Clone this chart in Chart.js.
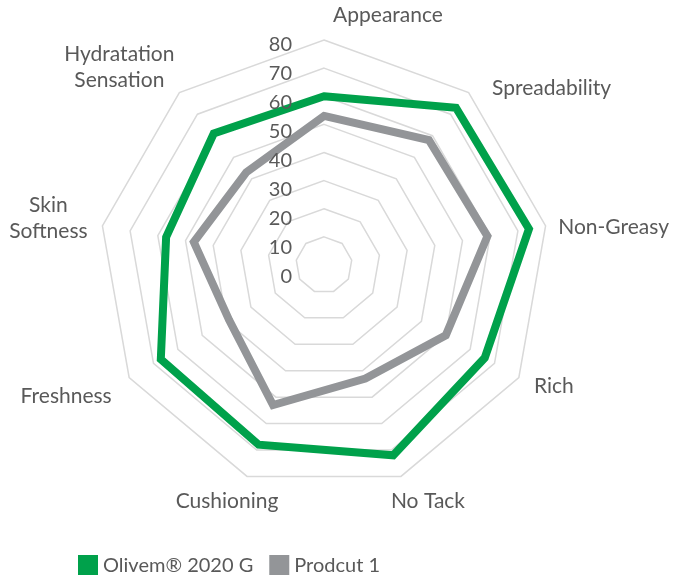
<!DOCTYPE html>
<html>
<head>
<meta charset="utf-8">
<script src="https://cdn.jsdelivr.net/npm/chart.js@4/dist/chart.umd.min.js"></script>
<style>
  html, body { margin: 0; padding: 0; background: #ffffff; }
  #wrap { position: relative; width: 675px; height: 579px; }
</style>
</head>
<body>
<div id="wrap"><canvas id="c" width="675" height="579"></canvas></div>
<script>
// ---- data ----
const categories = [
  'Appearance', 'Spreadability', 'Non-Greasy', 'Rich', 'No Tack',
  'Cushioning', 'Freshness', ['Skin', 'Softness'], ['Hydratation', 'Sensation']
];
const seriesNames = ['Olivem® 2020 G', 'Prodcut 1'];
const olivemValues = [60, 73, 74, 66, 72, 68, 67, 57, 61];
const productValues = [53, 58, 59, 50, 43, 53, 39, 47, 43];
const tickValues = [0, 10, 20, 30, 40, 50, 60, 70, 80];

// ---- styling ----
const GREEN = '#00A14B';
const GRAY = '#939598';
const TEXT = '#595959';
const FONT = 'Lato, "Open Sans", sans-serif';
const LABEL_SIZE = 21;
const TICK_SIZE = 20;
const LEGEND_SIZE = 20;

// label nudges from the outer vertex to the label's text centre
const labelNudge = [
  [64, -25], [83, -4], [68, 1], [35, 9], [27, 25],
  [-20, 25], [-63, 19], [-54, -8], [-60, -25]
];

const labelPlugin = {
  id: 'customLabels',
  afterDraw(chart) {
    const s = chart.scales.r;
    const ctx = chart.ctx;
    ctx.save();
    ctx.fillStyle = TEXT;
    ctx.textBaseline = 'middle';
    // point labels
    ctx.font = LABEL_SIZE + 'px ' + FONT;
    ctx.textAlign = 'center';
    const lh = 26;
    categories.forEach((lab, i) => {
      const p = s.getPointPosition(i, s.drawingArea);
      const cx = p.x + labelNudge[i][0];
      const cy = p.y + labelNudge[i][1];
      const lines = Array.isArray(lab) ? lab : [lab];
      const y0 = cy - (lines.length - 1) * lh / 2;
      lines.forEach((t, k) => ctx.fillText(t, cx, y0 + k * lh));
    });
    // tick labels (left of the vertical axis)
    ctx.font = TICK_SIZE + 'px ' + FONT;
    ctx.textAlign = 'right';
    tickValues.forEach(v => {
      const d = s.getDistanceFromCenterForValue(v);
      ctx.fillText(String(v), s.xCenter - 32, s.yCenter + 12 - d * 1.035);
    });
    // legend
    ctx.font = LEGEND_SIZE + 'px ' + FONT;
    const items = [[GREEN, seriesNames[0]], [GRAY, seriesNames[1]]];
    let x = 78;
    const ly = 565;
    ctx.textAlign = 'left';
    items.forEach(([col, name]) => {
      ctx.fillStyle = col;
      ctx.fillRect(x, ly - 10, 20, 20);
      ctx.fillStyle = TEXT;
      ctx.fillText(name, x + 25, ly + 1);
      x += 25 + ctx.measureText(name).width + 16;
    });
    ctx.restore();
  }
};

new Chart(document.getElementById('c'), {
  type: 'radar',
  data: {
    labels: categories,
    datasets: [
      {
        label: seriesNames[0],
        data: olivemValues,
        borderColor: GREEN,
        backgroundColor: GREEN,
        borderWidth: 8,
        fill: false,
        pointRadius: 0,
        pointHoverRadius: 0,
        borderJoinStyle: 'miter',
        tension: 0
      },
      {
        label: seriesNames[1],
        data: productValues,
        borderColor: GRAY,
        backgroundColor: GRAY,
        borderWidth: 8,
        fill: false,
        pointRadius: 0,
        pointHoverRadius: 0,
        borderJoinStyle: 'miter',
        tension: 0
      }
    ]
  },
  options: {
    responsive: false,
    animation: false,
    devicePixelRatio: 1,
    layout: { padding: { left: 99, right: 126, top: 40, bottom: 89 } },
    plugins: { legend: { display: false }, tooltip: { enabled: false } },
    scales: {
      r: {
        min: 0,
        max: 80,
        ticks: { stepSize: 10, display: false },
        grid: { color: '#D9D9D9', lineWidth: 1.5, circular: false },
        angleLines: { display: false },
        pointLabels: { display: false }
      }
    }
  },
  plugins: [labelPlugin]
});
</script>
</body>
</html>
